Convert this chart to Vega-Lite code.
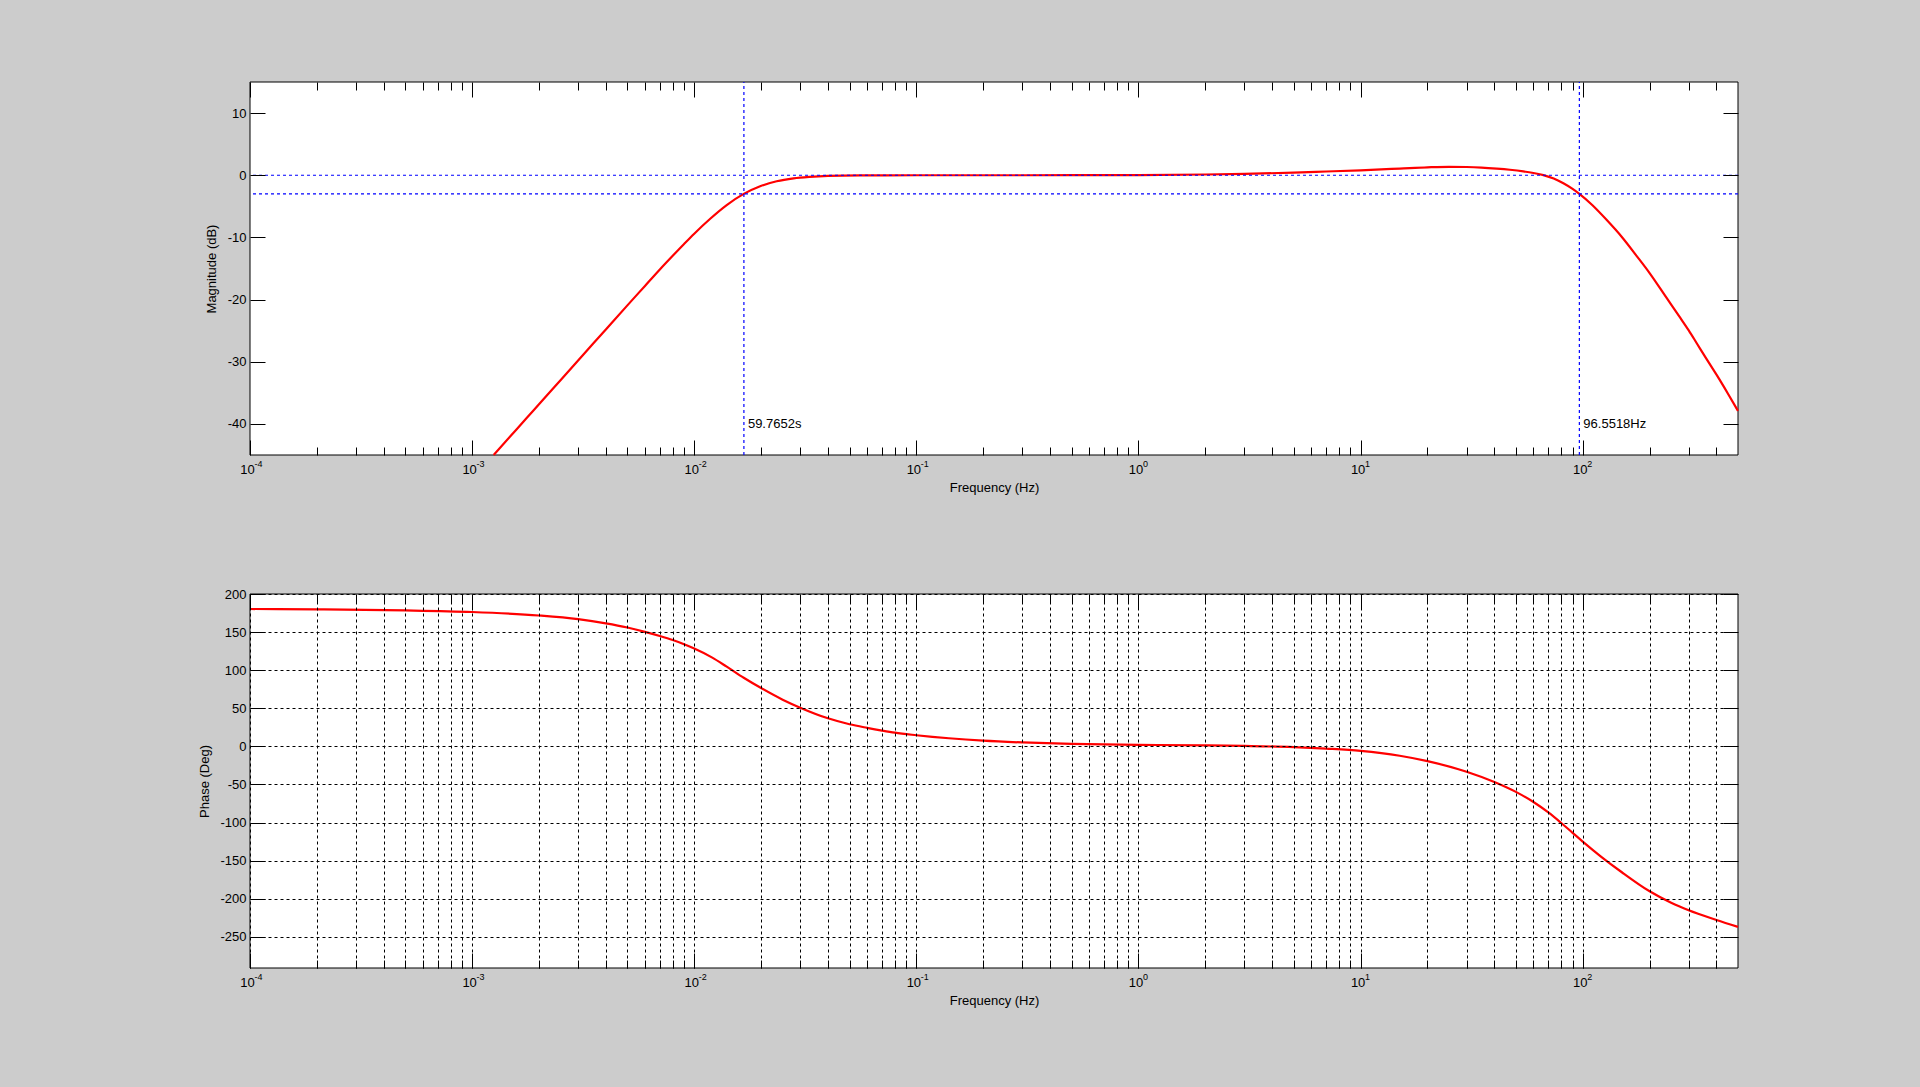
{
  "$schema": "https://vega.github.io/schema/vega-lite/v6.json",
  "background": "#cccccc",
  "autosize": {"type": "none"},
  "padding": {"left": 250, "top": 82, "right": 182, "bottom": 119},
  "width": 1488,
  "height": 886,
  "datasets": {
    "mag": [
      {"f": 0.00125, "db": -45.0}, {"f": 0.0015, "db": -41.83}, {"f": 0.00176, "db": -39.05},
      {"f": 0.002, "db": -36.85}, {"f": 0.0025, "db": -32.97}, {"f": 0.003, "db": -29.8}, {"f": 0.0035, "db": -27.12},
      {"f": 0.004, "db": -24.8}, {"f": 0.005, "db": -20.93}, {"f": 0.006, "db": -17.8}, {"f": 0.007, "db": -15.15},
      {"f": 0.008, "db": -12.95}, {"f": 0.009, "db": -11.05}, {"f": 0.01, "db": -9.4}, {"f": 0.0118, "db": -7.0},
      {"f": 0.014, "db": -4.8}, {"f": 0.0167, "db": -3.0}, {"f": 0.0198, "db": -1.77}, {"f": 0.0235, "db": -0.97},
      {"f": 0.028, "db": -0.5}, {"f": 0.033, "db": -0.26}, {"f": 0.04, "db": -0.1}, {"f": 0.056, "db": -0.02},
      {"f": 0.1, "db": 0.0}, {"f": 0.3, "db": 0.0}, {"f": 1, "db": 0.03}, {"f": 2, "db": 0.12},
      {"f": 3, "db": 0.22}, {"f": 5, "db": 0.42}, {"f": 7, "db": 0.6}, {"f": 10, "db": 0.8},
      {"f": 15, "db": 1.07}, {"f": 20, "db": 1.27}, {"f": 25, "db": 1.36}, {"f": 30, "db": 1.33},
      {"f": 35, "db": 1.24}, {"f": 41, "db": 1.07}, {"f": 47, "db": 0.88}, {"f": 54, "db": 0.62},
      {"f": 60, "db": 0.36}, {"f": 66.5, "db": 0.03}, {"f": 74, "db": -0.52}, {"f": 81.8, "db": -1.3},
      {"f": 90, "db": -2.2}, {"f": 96.55, "db": -3.0}, {"f": 110, "db": -4.75}, {"f": 128, "db": -7.17},
      {"f": 150, "db": -9.93}, {"f": 175, "db": -13.0}, {"f": 200, "db": -15.74}, {"f": 239, "db": -19.78},
      {"f": 275, "db": -22.95}, {"f": 300, "db": -24.95}, {"f": 327, "db": -27.1}, {"f": 360, "db": -29.5},
      {"f": 402, "db": -32.2}, {"f": 450, "db": -35.1}, {"f": 500, "db": -37.9}
    ],
    "phase": [
      {"f": 0.0001, "deg": 180.3}, {"f": 0.0002, "deg": 179.8}, {"f": 0.0005, "deg": 178.5}, {"f": 0.001, "deg": 176.4},
      {"f": 0.002, "deg": 171.8}, {"f": 0.003, "deg": 167.0}, {"f": 0.004, "deg": 161.5}, {"f": 0.005, "deg": 156.0},
      {"f": 0.006, "deg": 150.3}, {"f": 0.007, "deg": 144.8}, {"f": 0.008, "deg": 139.5}, {"f": 0.009, "deg": 134.0},
      {"f": 0.01, "deg": 128.4}, {"f": 0.012, "deg": 116.8}, {"f": 0.014, "deg": 104.6}, {"f": 0.0167, "deg": 90.0},
      {"f": 0.02, "deg": 76.5}, {"f": 0.025, "deg": 61.3}, {"f": 0.03, "deg": 50.8}, {"f": 0.04, "deg": 36.8},
      {"f": 0.05, "deg": 29.0}, {"f": 0.06, "deg": 24.3}, {"f": 0.07, "deg": 20.7}, {"f": 0.08, "deg": 17.9},
      {"f": 0.1, "deg": 14.6}, {"f": 0.2, "deg": 7.4}, {"f": 0.3, "deg": 5.1}, {"f": 0.5, "deg": 3.3},
      {"f": 1, "deg": 2.0}, {"f": 2, "deg": 1.2}, {"f": 3, "deg": 0.5}, {"f": 5, "deg": -1.0},
      {"f": 7, "deg": -3.0}, {"f": 10, "deg": -5.9}, {"f": 15, "deg": -12.3}, {"f": 20, "deg": -19.4},
      {"f": 30, "deg": -33.3}, {"f": 40, "deg": -46.8}, {"f": 50, "deg": -59.8}, {"f": 60, "deg": -73.1},
      {"f": 70, "deg": -86.8}, {"f": 80, "deg": -100.6}, {"f": 90, "deg": -113.5}, {"f": 100, "deg": -125.0},
      {"f": 120, "deg": -144.0}, {"f": 150, "deg": -165.3}, {"f": 200, "deg": -190.3}, {"f": 250, "deg": -205.3},
      {"f": 300, "deg": -215.2}, {"f": 400, "deg": -227.9}, {"f": 500, "deg": -237.0}
    ],
    "hlines": [{"db": 0}, {"db": -3}],
    "cut": [{"f": 0.016732, "label": "59.7652s"}, {"f": 96.5518, "label": "96.5518Hz"}]
  },
  "layer": [
    {
      "data": {"values": [{}]},
      "mark": {"type": "rect", "fill": "#ffffff", "stroke": "#000000", "strokeWidth": 1},
      "encoding": {
        "x": {"datum": 0.0001, "type": "quantitative", "scale": {"type": "log", "domain": [0.0001, 500], "nice": false}, "axis": null},
        "x2": {"datum": 500},
        "y": {"datum": -291, "type": "quantitative", "scale": {"domain": [-291, 200], "nice": false, "zero": false, "range": [886, 512]}, "axis": null},
        "y2": {"datum": 200}
      }
    },
    {
      "data": {"name": "phase"},
      "mark": {"type": "line", "color": "#ff0000", "strokeWidth": 2.2, "interpolate": "monotone"},
      "encoding": {
        "x": {"field": "f", "type": "quantitative", "scale": {"type": "log", "domain": [0.0001, 500], "nice": false},
          "axis": {"zindex": 1, "orient": "bottom", "offset": -513, "values": [0.0001, 0.001, 0.01, 0.1, 1, 10, 100], "labelExpr": "'10'", "tickSize": -15, "labelPadding": 23, "labelOffset": -3, "labelBaseline": "top", "grid": false, "title": "Frequency (Hz)", "titleY": 26}},
        "y": {"field": "deg", "type": "quantitative", "scale": {"domain": [-291, 200], "nice": false, "zero": false, "range": [886, 512]},
          "axis": {"zindex": 1, "orient": "left", "values": [-250, -200, -150, -100, -50, 0, 50, 100, 150, 200], "labelExpr": "'' + datum.value", "tickSize": -15, "labelPadding": 19, "grid": true, "title": "Phase (Deg)", "titleAngle": 270, "titleBaseline": "middle", "titleAlign": "center", "titleX": -46}}
      }
    },
    {
      "data": {"name": "phase"},
      "mark": {"type": "line", "opacity": 0},
      "encoding": {
        "x": {"field": "f", "type": "quantitative", "scale": {"type": "log", "domain": [0.0001, 500], "nice": false},
          "axis": {"zindex": 1, "orient": "bottom", "values": [0.0001, 0.001, 0.01, 0.1, 1, 10, 100], "labelExpr": "'' + round(log(datum.value) / LN10)", "ticks": false, "labelPadding": 4, "labelFontSize": 9, "labelAlign": "left", "labelOffset": 4, "labelBaseline": "top", "grid": false, "title": null}},
        "y": {"field": "deg", "type": "quantitative", "scale": {"domain": [-291, 200], "nice": false, "zero": false, "range": [886, 512]},
          "axis": {"zindex": 1, "orient": "right", "values": [-250, -200, -150, -100, -50, 0, 50, 100, 150, 200], "tickSize": -15, "labels": false, "grid": false, "title": null}}
      }
    },
    {
      "data": {"name": "phase"},
      "mark": {"type": "line", "opacity": 0},
      "encoding": {
        "x": {"field": "f", "type": "quantitative", "scale": {"type": "log", "domain": [0.0001, 500], "nice": false},
          "axis": {"zindex": 1, "orient": "bottom", "offset": -513, "values": [0.0002, 0.0003, 0.0004, 0.0005, 0.0006, 0.0007, 0.0008, 0.0009, 0.002, 0.003, 0.004, 0.005, 0.006, 0.007, 0.008, 0.009, 0.02, 0.03, 0.04, 0.05, 0.06, 0.07, 0.08, 0.09, 0.2, 0.3, 0.4, 0.5, 0.6, 0.7, 0.8, 0.9, 2, 3, 4, 5, 6, 7, 8, 9, 20, 30, 40, 50, 60, 70, 80, 90, 200, 300, 400], "tickSize": -8, "labels": false, "grid": false, "title": null}},
        "y": {"field": "deg", "type": "quantitative", "scale": {"domain": [-291, 200], "nice": false, "zero": false, "range": [886, 512]}, "axis": null}
      }
    },
    {
      "data": {"name": "phase"},
      "mark": {"type": "line", "opacity": 0},
      "encoding": {
        "x": {"field": "f", "type": "quantitative", "scale": {"type": "log", "domain": [0.0001, 500], "nice": false},
          "axis": {"zindex": 1, "orient": "top", "offset": -512, "values": [0.0001, 0.001, 0.01, 0.1, 1, 10, 100], "tickSize": -15, "labels": false, "grid": false, "title": null}},
        "y": {"field": "deg", "type": "quantitative", "scale": {"domain": [-291, 200], "nice": false, "zero": false, "range": [886, 512]}, "axis": null}
      }
    },
    {
      "data": {"name": "phase"},
      "mark": {"type": "line", "opacity": 0},
      "encoding": {
        "x": {"field": "f", "type": "quantitative", "scale": {"type": "log", "domain": [0.0001, 500], "nice": false},
          "axis": {"zindex": 1, "orient": "top", "offset": -512, "values": [0.0002, 0.0003, 0.0004, 0.0005, 0.0006, 0.0007, 0.0008, 0.0009, 0.002, 0.003, 0.004, 0.005, 0.006, 0.007, 0.008, 0.009, 0.02, 0.03, 0.04, 0.05, 0.06, 0.07, 0.08, 0.09, 0.2, 0.3, 0.4, 0.5, 0.6, 0.7, 0.8, 0.9, 2, 3, 4, 5, 6, 7, 8, 9, 20, 30, 40, 50, 60, 70, 80, 90, 200, 300, 400], "tickSize": -8, "labels": false, "grid": false, "title": null}},
        "y": {"field": "deg", "type": "quantitative", "scale": {"domain": [-291, 200], "nice": false, "zero": false, "range": [886, 512]}, "axis": null}
      }
    },
    {
      "data": {"values": [{}]},
      "mark": {"type": "rect", "fill": "#ffffff", "stroke": "#000000", "strokeWidth": 1},
      "encoding": {
        "x": {"datum": 0.0001, "type": "quantitative", "scale": {"type": "log", "domain": [0.0001, 500], "nice": false}, "axis": null},
        "x2": {"datum": 500},
        "y": {"datum": -45, "type": "quantitative", "scale": {"domain": [-45, 15], "nice": false, "zero": false, "range": [373, 0]}, "axis": null},
        "y2": {"datum": 15}
      }
    },
    {
      "data": {"name": "mag"},
      "mark": {"type": "line", "color": "#ff0000", "strokeWidth": 2.2, "interpolate": "monotone"},
      "encoding": {
        "x": {"field": "f", "type": "quantitative", "scale": {"type": "log", "domain": [0.0001, 500], "nice": false},
          "axis": {"zindex": 1, "orient": "bottom", "values": [0.0001, 0.001, 0.01, 0.1, 1, 10, 100], "labelExpr": "'10'", "tickSize": -15, "labelPadding": 23, "labelOffset": -3, "labelBaseline": "top", "grid": true, "title": "Frequency (Hz)", "titleY": 26}},
        "y": {"field": "db", "type": "quantitative", "scale": {"domain": [-45, 15], "nice": false, "zero": false, "range": [373, 0]},
          "axis": {"zindex": 1, "orient": "left", "values": [-40, -30, -20, -10, 0, 10], "labelExpr": "'' + datum.value", "tickSize": -15, "labelPadding": 19, "grid": false, "title": "Magnitude (dB)", "titleAngle": 270, "titleBaseline": "middle", "titleAlign": "center", "titleX": -39}}
      }
    },
    {
      "data": {"name": "cut"},
      "mark": {"type": "rule", "color": "#0000ff", "strokeWidth": 1.2, "strokeDash": [3, 3]},
      "encoding": {
        "x": {"field": "f", "type": "quantitative", "scale": {"type": "log", "domain": [0.0001, 500], "nice": false},
          "axis": {"zindex": 1, "orient": "bottom", "offset": -513, "values": [0.0001, 0.001, 0.01, 0.1, 1, 10, 100], "labelExpr": "'' + round(log(datum.value) / LN10)", "ticks": false, "labelPadding": 4, "labelFontSize": 9, "labelAlign": "left", "labelOffset": 4, "labelBaseline": "top", "grid": false, "title": null}},
        "y": {"datum": -45, "type": "quantitative", "scale": {"domain": [-45, 15], "nice": false, "zero": false, "range": [373, 0]}, "axis": null},
        "y2": {"datum": 15}
      }
    },
    {
      "data": {"name": "hlines"},
      "mark": {"type": "rule", "color": "#0000ff", "strokeWidth": 1.2, "strokeDash": [3, 3]},
      "encoding": {
        "y": {"field": "db", "type": "quantitative", "scale": {"domain": [-45, 15], "nice": false, "zero": false, "range": [373, 0]},
          "axis": {"zindex": 1, "orient": "right", "values": [-40, -30, -20, -10, 0, 10], "tickSize": -15, "labels": false, "grid": false, "title": null}}
      }
    },
    {
      "data": {"name": "cut"},
      "mark": {"type": "text", "align": "left", "baseline": "middle", "dx": 4, "fontSize": 13, "font": "Liberation Sans", "color": "#000000"},
      "encoding": {
        "x": {"field": "f", "type": "quantitative", "scale": {"type": "log", "domain": [0.0001, 500], "nice": false},
          "axis": {"zindex": 1, "orient": "bottom", "values": [0.0002, 0.0003, 0.0004, 0.0005, 0.0006, 0.0007, 0.0008, 0.0009, 0.002, 0.003, 0.004, 0.005, 0.006, 0.007, 0.008, 0.009, 0.02, 0.03, 0.04, 0.05, 0.06, 0.07, 0.08, 0.09, 0.2, 0.3, 0.4, 0.5, 0.6, 0.7, 0.8, 0.9, 2, 3, 4, 5, 6, 7, 8, 9, 20, 30, 40, 50, 60, 70, 80, 90, 200, 300, 400], "tickSize": -8, "labels": false, "grid": true, "title": null}},
        "y": {"datum": -40, "type": "quantitative", "scale": {"domain": [-45, 15], "nice": false, "zero": false, "range": [373, 0]}, "axis": null},
        "text": {"field": "label"}
      }
    },
    {
      "data": {"name": "cut"},
      "mark": {"type": "rule", "opacity": 0},
      "encoding": {
        "x": {"field": "f", "type": "quantitative", "scale": {"type": "log", "domain": [0.0001, 500], "nice": false},
          "axis": {"zindex": 1, "orient": "top", "values": [0.0001, 0.001, 0.01, 0.1, 1, 10, 100], "tickSize": -15, "labels": false, "grid": false, "title": null}}
      }
    },
    {
      "data": {"name": "cut"},
      "mark": {"type": "rule", "opacity": 0},
      "encoding": {
        "x": {"field": "f", "type": "quantitative", "scale": {"type": "log", "domain": [0.0001, 500], "nice": false},
          "axis": {"zindex": 1, "orient": "top", "values": [0.0002, 0.0003, 0.0004, 0.0005, 0.0006, 0.0007, 0.0008, 0.0009, 0.002, 0.003, 0.004, 0.005, 0.006, 0.007, 0.008, 0.009, 0.02, 0.03, 0.04, 0.05, 0.06, 0.07, 0.08, 0.09, 0.2, 0.3, 0.4, 0.5, 0.6, 0.7, 0.8, 0.9, 2, 3, 4, 5, 6, 7, 8, 9, 20, 30, 40, 50, 60, 70, 80, 90, 200, 300, 400], "tickSize": -8, "labels": false, "grid": false, "title": null}}
      }
    }
  ],
  "resolve": {"scale": {"y": "independent"}, "axis": {"x": "independent", "y": "independent"}},
  "config": {
    "view": {"stroke": null},
    "axis": {
      "domain": false,
      "labelFont": "Liberation Sans",
      "titleFont": "Liberation Sans",
      "labelFontSize": 13,
      "titleFontSize": 13,
      "titleFontWeight": "normal",
      "labelColor": "#000000",
      "titleColor": "#000000",
      "tickColor": "#000000",
      "tickWidth": 1,
      "labelFlush": false,
      "labelOverlap": false,
      "labelBound": false,
      "gridColor": "#000000",
      "gridDash": [3, 3],
      "gridWidth": 1,
      "gridOpacity": 1
    }
  }
}
